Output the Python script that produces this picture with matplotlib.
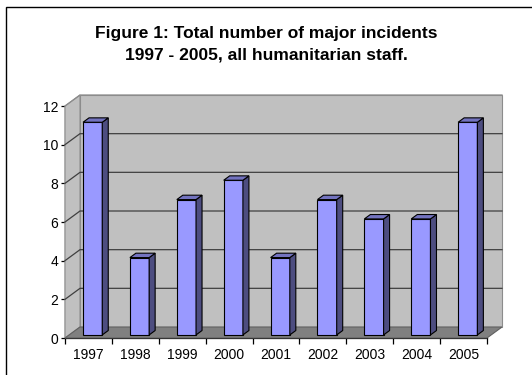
import matplotlib
matplotlib.use('Agg')
import matplotlib.pyplot as plt
from matplotlib.patches import Polygon, Rectangle
from matplotlib.transforms import IdentityTransform
import numpy as np

# ── Data ─────────────────────────────────────────────────────────────────────
years = ['1997', '1998', '1999', '2000', '2001', '2002', '2003', '2004', '2005']
incidents = [11, 4, 7, 8, 4, 7, 6, 6, 11]
y_ticks = [0, 2, 4, 6, 8, 10, 12]

TITLE = 'Figure 1: Total number of major incidents\n1997 - 2005, all humanitarian staff.'

# ── Style ────────────────────────────────────────────────────────────────────
W, H, DPI = 532, 375, 100
DEPTH_DX, DEPTH_DY = 15, 11      # oblique depth of the plot box [px]
BAR_F0, BAR_F1 = 0.28, 0.68      # bar depth range (fraction of box depth)
BAR_W = 0.41                     # bar width (fraction of category)
WALL = '#c0c0c0'
FLOOR = '#808080'
FRONT, SIDE, TOP = '#9999ff', '#4d4d80', '#7373bf'

plt.rcParams['font.family'] = ['Liberation Sans', 'DejaVu Sans']

fig = plt.figure(figsize=(W / DPI, H / DPI), dpi=DPI)
fig.patch.set_facecolor('white')

# outer chart frame (right/bottom edges fall outside the image)
fig.patches.append(Rectangle((6 / W, -0.1), 1.2, 1 - 7 / H + 0.1,
                             transform=fig.transFigure, fill=False,
                             edgecolor='black', lw=1.0))

fig.text(266 / W, 1 - 44 / H, TITLE, ha='center', va='center',
         fontsize=12.5, fontweight='bold', linespacing=1.55)

# front plane of the plot box
left, right, top, bottom = 65, 487, 106, 338
ax = fig.add_axes([left / W, 1 - bottom / H, (right - left) / W, (bottom - top) / H])
ax.set_xlim(-0.5, len(years) - 0.5)
ax.set_ylim(0, 12)
ax.patch.set_visible(False)
for s in ('top', 'right'):
    ax.spines[s].set_visible(False)
ax.spines['left'].set_color('black')
ax.spines['bottom'].set_color('black')
ax.spines['left'].set_linewidth(0.9)
ax.spines['bottom'].set_linewidth(0.9)

ax.set_yticks(y_ticks)
ax.set_yticklabels([str(v) for v in y_ticks])
ax.tick_params(axis='y', direction='out', length=3, width=0.9, pad=2, labelsize=10)
ax.set_xticks(np.arange(len(years) + 1) - 0.5)
ax.set_xticklabels([])
ax.set_xticks(np.arange(len(years)), minor=True)
ax.set_xticklabels(years, minor=True)
ax.tick_params(axis='x', which='major', direction='out', length=4, width=0.9)
ax.tick_params(axis='x', which='minor', length=0, pad=7, labelsize=10)

fig.canvas.draw()


def proj(x, y, f):
    """data (x, y) at depth fraction f -> display pixels"""
    px, py = ax.transData.transform((x, y))
    return (px + DEPTH_DX * f, py + DEPTH_DY * f)


def poly(pts, fc, ec, lw=0.8, z=1):
    p = Polygon(pts, closed=True, facecolor=fc, edgecolor=ec, lw=lw,
                transform=IdentityTransform(), zorder=z)
    fig.patches.append(p)


x0, x1 = -0.5, len(years) - 0.5
y0, y1 = 0, 12

# walls and floor
poly([proj(x0, y0, 1), proj(x1, y0, 1), proj(x1, y1, 1), proj(x0, y1, 1)], WALL, '#8c8c8c', 0.8)
poly([proj(x0, y0, 0), proj(x0, y0, 1), proj(x0, y1, 1), proj(x0, y1, 0)], WALL, '#8c8c8c', 0.8)
poly([proj(x0, y0, 0), proj(x1, y0, 0), proj(x1, y0, 1), proj(x0, y0, 1)], FLOOR, '#606060', 0.8)

# gridlines on back and side wall
for v in y_ticks[1:]:
    pts = [proj(x0, v, 0), proj(x0, v, 1), proj(x1, v, 1)]
    fig.lines.append(plt.Line2D([p[0] for p in pts], [p[1] for p in pts],
                                color='#404040' if v < 12 else '#8c8c8c', lw=0.9,
                                transform=IdentityTransform(), zorder=1.5))

# bars
for i, v in enumerate(incidents):
    a, b = i - BAR_W / 2, i + BAR_W / 2
    poly([proj(a, 0, BAR_F0), proj(b, 0, BAR_F0), proj(b, v, BAR_F0), proj(a, v, BAR_F0)], FRONT, 'black', 0.8, 2)
    poly([proj(b, 0, BAR_F0), proj(b, 0, BAR_F1), proj(b, v, BAR_F1), proj(b, v, BAR_F0)], SIDE, 'black', 0.8, 2)
    poly([proj(a, v, BAR_F0), proj(b, v, BAR_F0), proj(b, v, BAR_F1), proj(a, v, BAR_F1)], TOP, 'black', 0.8, 2)

fig.savefig('out.png', dpi=DPI)
